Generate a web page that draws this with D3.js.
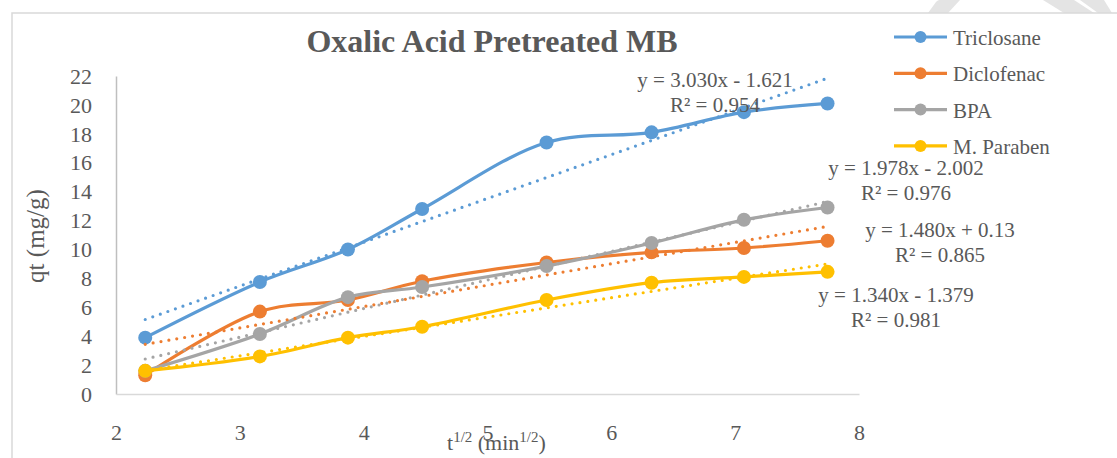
<!DOCTYPE html>
<html>
<head>
<meta charset="utf-8">
<script src="https://cdn.jsdelivr.net/npm/d3@7"></script>
<style>
  body { margin: 0; background: #fff; }
  text { font-family: "Liberation Serif", "Times New Roman", serif; fill: #595959; }
</style>
</head>
<body>
<div class="canvas"></div>
<script>
// data
const sqrtT = [2.236, 3.162, 3.873, 4.472, 5.477, 6.325, 7.071, 7.746];
const triclosane = [3.9, 7.75, 10.0, 12.8, 17.4, 18.1, 19.5, 20.1];
const diclofenac = [1.3, 5.7, 6.5, 7.8, 9.1, 9.8, 10.1, 10.6];
const bpa = [1.6, 4.15, 6.7, 7.4, 8.85, 10.45, 12.05, 12.9];
const paraben = [1.6, 2.6, 3.9, 4.65, 6.5, 7.7, 8.1, 8.45];

const seriesNames = ['Triclosane', 'Diclofenac', 'BPA', 'M. Paraben'];
const slopes = [3.030, 1.480, 1.978, 1.340];
const intercepts = [-1.621, 0.13, -2.002, -1.379];
const equations = ['y = 3.030x - 1.621', 'y = 1.480x + 0.13', 'y = 1.978x - 2.002', 'y = 1.340x - 1.379'];
const rSquared = ['R² = 0.954', 'R² = 0.865', 'R² = 0.976', 'R² = 0.981'];
const xTicks = [2, 3, 4, 5, 6, 7, 8];
const yTicks = [0, 2, 4, 6, 8, 10, 12, 14, 16, 18, 20, 22];

const colors = ['#5B9BD5', '#ED7D31', '#A5A5A5', '#FFC000'];
// where the trendline labels sit (centre x, first baseline)
const labelPos = [[715, 87], [940, 237], [906, 175], [896, 302]];

const width = 1117, height = 458;

const svg = d3.select('.canvas')
  .append('svg')
  .attr('width', width)
  .attr('height', height);

// faint watermark pieces above the frame
svg.append('g')
  .attr('fill', '#e4e4e4')
  .selectAll('path')
  .data([
    'M928,13 L936,2 Q940,-2 948,0 L960,0 L948,13 Z',
    'M1043,0 L1074,0 L1094,13 L1064,13 Z',
    'M1080,0 L1104,0 L1112,13 L1098,13 Z'
  ])
  .enter().append('path')
  .attr('d', d => d);

// outer frame
svg.append('rect')
  .attr('x', 12).attr('y', 13)
  .attr('width', 1130).attr('height', 470)
  .attr('fill', 'none')
  .attr('stroke', '#d9d9d9')
  .attr('stroke-width', 1.5);

const x = d3.scaleLinear().domain([2, 8]).range([116, 859]);
const y = d3.scaleLinear().domain([0, 22]).range([394, 76]);

// y axis
const yAxis = svg.append('g')
  .attr('transform', `translate(${x(2)},0)`)
  .attr('font-family', null)
  .call(d3.axisLeft(y).tickValues(yTicks).tickFormat(d3.format('d')).tickSize(0).tickPadding(24));
yAxis.select('.domain').attr('stroke', '#bfbfbf').attr('stroke-width', 1.5);
yAxis.selectAll('text')
  .attr('font-size', 22)
  .attr('fill', '#595959')
  .attr('dy', '0.33em');

// x axis
const xAxis = svg.append('g')
  .attr('transform', `translate(0,${y(0)})`)
  .call(d3.axisBottom(x).tickValues(xTicks).tickFormat(d3.format('d')).tickSize(0));
xAxis.select('.domain').attr('stroke', '#d9d9d9').attr('stroke-width', 1.5);
xAxis.selectAll('text')
  .attr('font-size', 22)
  .attr('fill', '#595959')
  .attr('y', 46)
  .attr('dy', 0);

// title
svg.append('text')
  .attr('x', 492).attr('y', 52)
  .attr('text-anchor', 'middle')
  .attr('font-size', 32)
  .attr('font-weight', 'bold')
  .text('Oxalic Acid Pretreated MB');

// axis titles
svg.append('text')
  .attr('transform', 'translate(44,236) rotate(-90)')
  .attr('text-anchor', 'middle')
  .attr('font-size', 25)
  .text('qt (mg/g)');

const xTitle = svg.append('text')
  .attr('x', 447).attr('y', 450)
  .attr('font-size', 22);
xTitle.append('tspan').text('t');
xTitle.append('tspan').attr('font-size', 15).attr('dy', -8).text('1/2');
xTitle.append('tspan').attr('dy', 8).text(' (min');
xTitle.append('tspan').attr('font-size', 15).attr('dy', -8).text('1/2');
xTitle.append('tspan').attr('dy', 8).text(')');

const allSeries = [triclosane, diclofenac, bpa, paraben];

const line = d3.line()
  .x((d, i) => x(sqrtT[i]))
  .y(d => y(d))
  .curve(d3.curveCatmullRom.alpha(0.5));

const plot = svg.append('g');

allSeries.forEach((values, s) => {
  plot.append('path')
    .datum(values)
    .attr('fill', 'none')
    .attr('stroke', colors[s])
    .attr('stroke-width', 3.2)
    .attr('stroke-linejoin', 'round')
    .attr('d', line);

  plot.selectAll(null)
    .data(values)
    .enter().append('circle')
    .attr('cx', (d, i) => x(sqrtT[i]))
    .attr('cy', d => y(d))
    .attr('r', 7)
    .attr('fill', colors[s]);
});

// linear trendlines (dotted)
allSeries.forEach((values, s) => {
  const x0 = sqrtT[0], x1 = sqrtT[sqrtT.length - 1];
  plot.append('line')
    .attr('x1', x(x0)).attr('y1', y(slopes[s] * x0 + intercepts[s]))
    .attr('x2', x(x1)).attr('y2', y(slopes[s] * x1 + intercepts[s]))
    .attr('stroke', colors[s])
    .attr('stroke-width', 3.2)
    .attr('stroke-linecap', 'round')
    .attr('stroke-dasharray', '0 8');
});

// trendline equations
equations.forEach((eq, s) => {
  const g = svg.append('text')
    .attr('text-anchor', 'middle')
    .attr('font-size', 21);
  g.append('tspan').attr('x', labelPos[s][0]).attr('y', labelPos[s][1]).text(eq);
  g.append('tspan').attr('x', labelPos[s][0]).attr('y', labelPos[s][1] + 25).text(rSquared[s]);
});

// legend
const legend = svg.append('g').attr('transform', 'translate(894,37)');
const items = legend.selectAll('g')
  .data(seriesNames)
  .enter().append('g')
  .attr('transform', (d, i) => `translate(0,${i * 36.3})`);
items.append('line')
  .attr('x1', 0).attr('x2', 53)
  .attr('stroke', (d, i) => colors[i])
  .attr('stroke-width', 3.2);
items.append('circle')
  .attr('cx', 26.5).attr('r', 6)
  .attr('fill', (d, i) => colors[i]);
items.append('text')
  .attr('x', 59).attr('y', 8)
  .attr('font-size', 21)
  .text(d => d);
</script>
</body>
</html>
